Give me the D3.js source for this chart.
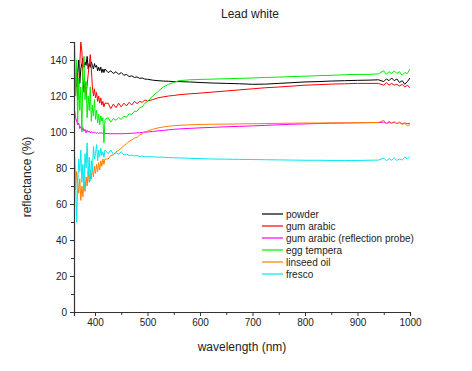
<!DOCTYPE html>
<html>
<head>
<meta charset="utf-8">
<script src="https://cdn.jsdelivr.net/npm/d3@7"></script>
<style>
  body { margin: 0; background: #fff; }
  svg { font-family: "Liberation Sans", Arial, sans-serif; }
</style>
</head>
<body>
<svg id="chart" width="472" height="371"></svg>
<script>
// wavelength samples (nm), shared by all series
var wavelengths = [
  361,363,365,367,369,371,373,375,377,379,381,383,385,387,389,391,393,395,397,399,
  401,403,405,407,409,411,413,415,417,419,
  425,430,435,440,445,450,455,460,465,470,475,480,485,490,495,500,
  510,520,530,540,550,560,580,600,
  625,650,675,700,725,750,775,800,825,850,875,900,920,940,
  950,955,960,965,970,975,980,985,990,995,1000
];

var seriesNames = ["powder", "gum arabic", "gum arabic (reflection probe)", "egg tempera", "linseed oil", "fresco"];
var seriesColors = ["#000000", "#ff0000", "#ff00ff", "#00ee00", "#ff8000", "#00e8f0"];

var powder = [
  130,128,125,133,140,127,135,138,141,136,139,137,142,135,138,136,139,137,135,138,
  136,137,134,136,134,136,133,135,133,135,
  133,134,132.5,133.5,132,133,131.5,132,130.8,131.2,130.3,130.6,129.8,130,129.4,129.3,
  128.8,128.5,128.3,128.2,128,128,127.8,127.5,
  127.2,127,126.8,126.5,126.6,127,127.4,127.8,128,128.3,128.5,128.7,128.8,129,
  128,129.5,128.5,130,128.5,129.5,127.5,128.5,126.5,128,130
];
var gumArabic = [
  128,120,135,118,125,138,150,145,130,122,128,120,126,132,138,143,135,125,120,124,
  119,122,117,120,116,119,115,117,114,116,
  116,113,115.5,113.5,116,114,116,114.5,116.5,115,117,115.8,117,116.5,117.8,117.2,
  118,119,119.5,120,120.3,120.7,121.2,121.6,
  122.2,122.8,123.4,124,124.6,125,125.5,126,126.3,126.6,126.8,127,127,127,
  126,127.5,126,127,126,126.5,125.5,126.5,125,126,124.5
];
var gumArabicProbe = [
  112,108,106,104,105,102,103,101,102.5,100.5,101.5,99.5,101,100,100.5,99.5,100.3,99.6,100,99.4,
  99.8,99.3,99.7,99.2,99.6,99.3,99.5,99.2,99.4,99.2,
  99.2,99,99.1,99,99.1,99,99.1,99.2,99.2,99.3,99.4,99.5,99.6,99.8,99.9,100,
  100.3,100.6,100.9,101.2,101.5,101.7,102,102.3,
  102.6,102.9,103.1,103.4,103.7,104,104.3,104.5,104.7,104.9,105,105.1,105.2,105.2,
  105.5,104.8,105.3,104.9,105.4,104.8,105.2,104.7,105,104.6,104.8
];
var eggTempera = [
  150,120,140,105,130,112,125,100,135,142,118,128,108,120,112,125,106,115,109,118,
  107,112,105,110,104,109,106,108,94,107,
  108,105.5,107.5,106.5,108,107,108.8,108.2,110,109.8,111.5,111.5,113.5,114,116,117,
  120,122.5,125,126.5,127.5,128.5,129,129.2,
  129.4,129.6,129.8,130,130.3,130.5,130.8,131,131.3,131.5,131.8,132,132,132.3,
  134,132,133.5,132.5,134,132.5,133.5,131.5,133,132.5,135
];
var linseedOil = [
  75,68,78,72,66,74,62,70,64,72,67,75,70,78,72,79,74,80,75,81,
  77,82,78,83,79,84,81,85,82,85,
  85,87,87.2,89,89.8,91,92.4,93.5,94.8,95.5,96.6,97,98.4,99,100.2,100.5,
  101.5,102.3,102.8,103.2,103.5,103.7,104,104.2,
  104.3,104.4,104.5,104.6,104.7,104.8,104.9,105,105,105.1,105.1,105.2,105.2,105.3,
  106.5,104.5,106,104.8,105.8,104.5,105.5,104.2,104.8,103.5,104
];
var fresco = [
  88,75,50,70,85,78,90,72,82,68,88,80,94,76,86,73,84,78,92,85,
  88,93,84,90,86,91,87,89,86,90,
  88,90,87.5,88.5,87.8,89,87.2,87.8,86.9,87.2,86.7,86.9,86.4,86.6,86.2,86.3,
  86.2,86,86,85.8,85.7,85.6,85.4,85.2,
  85,84.9,84.8,84.7,84.6,84.5,84.4,84.3,84.3,84.2,84.2,84.2,84.3,84.4,
  85.5,84,85.2,84.3,85.6,84.2,85,84.4,86,85,86.5
];

var allSeries = [powder, gumArabic, gumArabicProbe, eggTempera, linseedOil, fresco];

var xTicks = [400, 500, 600, 700, 800, 900, 1000];
var yTicks = [0, 20, 40, 60, 80, 100, 120, 140];

var svg = d3.select("#chart");
var axisColor = "#333";

var x = d3.scaleLinear().domain([360, 1000]).range([74, 410]);
var y = d3.scaleLinear().domain([0, 150]).range([312, 42]);

svg.append("clipPath").attr("id", "plotclip")
  .append("rect")
    .attr("x", x(360)).attr("y", y(150))
    .attr("width", x(1000) - x(360)).attr("height", y(0) - y(150));

// title
svg.append("text")
  .attr("x", 250).attr("y", 18)
  .attr("text-anchor", "middle")
  .attr("font-size", 12)
  .attr("fill", "#222")
  .text("Lead white");

// series lines
var line = d3.line()
  .x(function(d, i) { return x(wavelengths[i]); })
  .y(function(d) { return y(d); });

var plot = svg.append("g").attr("clip-path", "url(#plotclip)");
allSeries.forEach(function(s, k) {
  plot.append("path")
    .datum(s)
    .attr("fill", "none")
    .attr("stroke", seriesColors[k])
    .attr("stroke-width", 1)
    .attr("stroke-linejoin", "round")
    .attr("d", line);
});

// x axis with minor ticks
var xAxisG = svg.append("g").attr("transform", "translate(0," + y(0) + ")");
xAxisG.call(d3.axisBottom(x).tickValues(d3.range(400, 1001, 50)).tickSize(4).tickFormat(function(d) {
  return xTicks.indexOf(d) >= 0 ? d : "";
}));
xAxisG.selectAll(".tick line").attr("y2", function(d) { return d % 100 === 0 ? 4 : 3; });

// y axis with minor ticks
var yAxisG = svg.append("g").attr("transform", "translate(" + x(360) + ",0)");
yAxisG.call(d3.axisLeft(y).tickValues(d3.range(0, 151, 10)).tickSize(4).tickFormat(function(d) {
  return yTicks.indexOf(d) >= 0 ? d : "";
}));
yAxisG.selectAll(".tick line").attr("x2", function(d) { return d % 20 === 0 ? -4 : -3; });

[xAxisG, yAxisG].forEach(function(g) {
  g.select(".domain").attr("stroke", axisColor).attr("stroke-width", 1.2);
  g.selectAll(".tick line").attr("stroke", axisColor);
  g.selectAll(".tick text").attr("fill", "#222").attr("font-size", 10)
    .style("font-family", "Liberation Sans, Arial, sans-serif");
});

// axis titles
svg.append("text")
  .attr("x", 242).attr("y", 351)
  .attr("text-anchor", "middle")
  .attr("font-size", 12)
  .attr("fill", "#222")
  .text("wavelength (nm)");

svg.append("text")
  .attr("transform", "translate(31," + y(75) + ") rotate(-90)")
  .attr("text-anchor", "middle")
  .attr("font-size", 12)
  .attr("fill", "#222")
  .text("reflectance (%)");

// legend
var legend = svg.append("g").attr("transform", "translate(262,214)");
seriesNames.forEach(function(name, k) {
  var row = legend.append("g").attr("transform", "translate(0," + (k * 12) + ")");
  row.append("line")
    .attr("x1", 0).attr("x2", 21)
    .attr("y1", 0).attr("y2", 0)
    .attr("stroke", seriesColors[k])
    .attr("stroke-width", 1.2);
  row.append("text")
    .attr("x", 24).attr("y", 3.5)
    .attr("font-size", 10)
    .attr("fill", "#222")
    .text(name);
});
</script>
</body>
</html>
